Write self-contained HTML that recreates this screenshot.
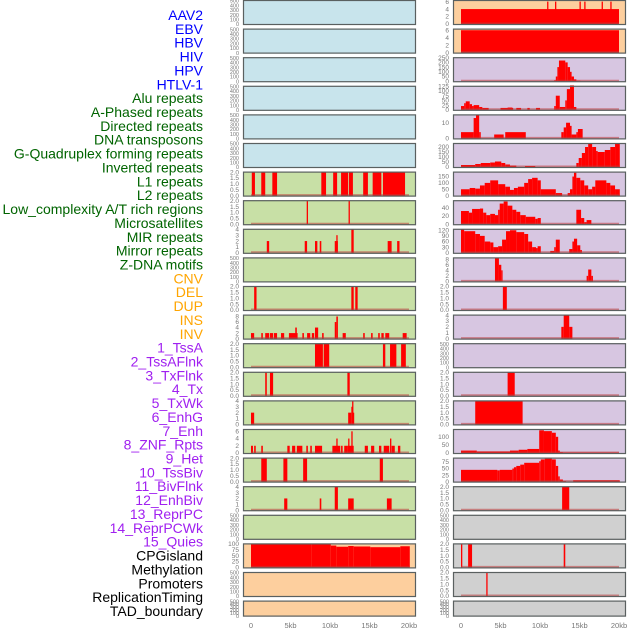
<!DOCTYPE html>
<html><head><meta charset="utf-8"><style>
body{margin:0;background:#fff;}
svg{display:block;font-family:"Liberation Sans",sans-serif;}
</style></head><body>
<svg id="chart" width="630" height="630" viewBox="0 0 630 630"></svg>
<script>
const labels=["AAV2","EBV","HBV","HIV","HPV","HTLV-1","Alu repeats","A-Phased repeats","Directed repeats","DNA transposons","G-Quadruplex forming repeats","Inverted repeats","L1 repeats","L2 repeats","Low_complexity A/T rich regions","Microsatellites","MIR repeats","Mirror repeats","Z-DNA motifs","CNV","DEL","DUP","INS","INV","1_TssA","2_TssAFlnk","3_TxFlnk","4_Tx","5_TxWk","6_EnhG","7_Enh","8_ZNF_Rpts","9_Het","10_TssBiv","11_BivFlnk","12_EnhBiv","13_ReprPC","14_ReprPCWk","15_Quies","CPGisland","Methylation","Promoters","ReplicationTiming","TAD_boundary"];
const labelColors=["#0000ff","#0000ff","#0000ff","#0000ff","#0000ff","#0000ff","#006400","#006400","#006400","#006400","#006400","#006400","#006400","#006400","#006400","#006400","#006400","#006400","#006400","#ffa500","#ffa500","#ffa500","#ffa500","#ffa500","#a020f0","#a020f0","#a020f0","#a020f0","#a020f0","#a020f0","#a020f0","#a020f0","#a020f0","#a020f0","#a020f0","#a020f0","#a020f0","#a020f0","#a020f0","#000","#000","#000","#000","#000"];
const xTickValues=[0,5,10,15,20];
const xTickLabels=["0","5kb","10kb","15kb","20kb"];
const E=[0,100,200,300,400,500];
const T2=[0,0.5,1,1.5,2];
const leftBg=["b","b","b","b","b","b","g","g","g","g","g","g","g","g","g","g","g","g","g","o","o","o"];
const leftYmax=[500,500,500,500,500,500,2,2,4,500,2,8.5,2,2,4,6.5,2,4,500,100,500,500];
const leftTicks=[E,E,E,E,E,E,T2,T2,[0,1,2,3,4],E,T2,[0,2,4,6,8],T2,T2,[0,1,2,3,4],[0,2,4,6],T2,[0,1,2,3,4],E,[0,25,50,75,100],E,E];
const leftBars=[[],[],[],[],[],[],
[[0.1,0.5,2],[1.3,1.8,2],[2.7,3.3,2],[8.9,9.5,2],[10.4,10.9,2],[11.4,12.3,2],[12.4,12.9,2],[14.2,14.8,2],[15.4,16.5,2],[16.7,19.5,2]],
[[7.05,7.2,2],[12.35,12.5,2]],
[[2.0,2.3,2],[6.8,7.1,2],[8.1,8.4,2],[8.7,8.9,2],[10.6,11.0,2],[10.8,10.9,3],[12.7,13.0,4],[17.3,17.8,2],[18.5,18.8,2]],
[],
[[0.4,0.7,2],[12.7,13.0,2],[13.2,13.5,2]],
[[0,0.4,2],[1.3,1.5,2],[1.8,2.3,2],[2.4,2.8,2],[2.9,3.3,2],[3.8,4.2,2],[4.8,5.9,2],[5.6,5.8,4],[6.5,6.7,2],[7.1,7.5,2],[7.7,8.0,2],[8.1,8.5,4],[9.0,9.2,2],[10.6,10.8,6],[10.8,11.0,8],[11.6,12.0,2],[14.2,14.4,2],[15.2,15.4,2],[16.1,16.3,2],[16.5,16.8,2],[17.0,17.5,2],[19.2,19.7,2]],
[[8.1,9.1,2],[9.2,9.9,2],[16.7,17.0,2],[17.6,18.4,2],[19.0,19.6,2]],
[[1.8,2.0,2],[2.4,2.8,2],[12.2,12.5,2]],
[[0,0.4,2],[12.3,12.7,2],[12.7,12.8,3],[12.8,12.9,4],[12.9,13.0,2]],
[[0,0.25,2],[0.4,0.6,2],[1.3,1.5,2],[4.6,4.9,2],[5.2,5.6,2],[5.8,6.5,2],[7.0,7.2,2],[7.5,7.7,2],[8.1,9.0,2],[10.3,11.3,2],[10.8,10.9,4],[11.4,11.6,2],[11.8,12.2,2],[12.2,13.0,2],[12.3,12.4,4],[12.7,12.8,6],[14.4,14.8,2],[15.2,15.6,2],[16.2,16.5,2],[16.8,17.5,2],[17.6,17.7,4],[17.8,18.2,2],[18.6,18.9,2]],
[[1.3,2.0,2],[4.1,4.6,2],[6.6,7.1,2],[16.3,16.7,2]],
[[4.2,4.6,2],[8.7,8.9,2],[10.6,11.0,4],[12.3,13.0,2],[17.2,17.8,2]],
[],
[[0,7.7,100],[7.7,10.1,98],[10.1,10.8,93],[10.8,12.3,88],[12.3,13.0,91],[13.0,15.1,89],[15.1,18.9,86],[18.9,20.1,90]],
[],[]];
const rightBg=["o","o","p","p","p","p","p","p","p","p","p","p","p","p","p","p","p","y","y","y","y","y"];
const rightYmax=[6.3,6.3,250,125,15,235,185,57,125,8.5,2,4,500,2,2,145,90,2,500,2,2,500];
const rightTicks=[[0,2,4,6],[0,2,4,6],[0,50,100,150,200,250],[0,25,50,75,100,125],[0,10],[0,50,100,150,200],[0,50,100,150],[0,20,40],[0,30,60,90,120],[0,2,4,6,8],T2,[0,1,2,3,4],E,T2,T2,[0,50,100],[0,25,50,75],T2,E,T2,T2,E];
const rightBars=[
[[0,20,4],[10.9,11.0,6],[11.9,12.0,6],[15.0,15.1,6],[15.6,15.7,6],[17.8,17.9,6],[18.9,19.0,6]],
[[0,20,6]],
[[11.8,12.0,10],[12.0,12.2,50],[12.2,12.4,150],[12.4,13.2,220],[13.2,13.5,200],[13.5,13.8,150],[13.8,14.0,100],[14.0,14.3,50],[14.3,14.6,20],[14.6,15.1,5]],
[[0,0.4,20],[0.4,0.6,35],[0.6,1.1,45],[1.1,1.4,30],[1.4,1.6,20],[1.6,2.3,25],[2.3,2.7,15],[2.7,3.5,10],[5.0,6.6,10],[5.9,6.5,12],[7.0,7.6,10],[8.4,8.7,10],[9.5,10.0,10],[11.8,12.0,20],[12.0,12.5,75],[12.5,13.2,15],[13.2,13.4,50],[13.4,13.8,110],[13.8,14.3,130],[14.3,14.6,15]],
[[0,1.6,4],[1.6,1.9,13],[1.9,2.3,15],[2.3,2.5,4],[4.2,5.4,2.5],[5.6,8.2,4],[12.7,13.0,4],[13.0,13.3,7],[13.3,13.8,10],[13.8,14.0,8],[14.0,14.6,2.5],[14.6,14.8,4],[14.8,15.4,6]],
[[0,1.8,20],[1.8,2.5,30],[2.5,3.7,40],[3.7,4.3,45],[4.3,5.1,55],[5.1,5.6,40],[5.6,6.2,25],[6.2,7.0,15],[8.1,9.4,10],[14.6,14.9,40],[14.9,15.3,90],[15.3,15.7,140],[15.7,16.1,200],[16.1,16.6,230],[16.6,17.1,200],[17.1,17.3,160],[17.3,18.2,150],[18.2,18.9,170],[18.9,19.5,200],[19.5,20.1,230]],
[[0,1.1,50],[1.1,1.8,60],[1.8,2.4,55],[2.4,3.0,80],[3.0,3.7,100],[3.7,4.7,120],[4.7,5.6,90],[5.6,6.2,70],[6.2,6.7,45],[6.7,7.2,60],[7.2,8.0,70],[8.0,8.5,100],[8.5,9.0,130],[9.0,9.7,140],[9.7,10.1,120],[10.1,12.0,50],[12.0,12.8,20],[13.5,13.8,20],[13.8,14.1,50],[14.1,14.3,150],[14.3,14.6,180],[14.6,15.1,140],[15.1,15.6,120],[15.6,16.1,80],[16.1,16.6,50],[16.6,17.0,70],[17.0,18.4,120],[18.4,18.9,100],[18.9,19.5,80],[19.5,20.1,50]],
[[0,1.0,32],[1.0,1.4,28],[1.4,2.4,37],[2.4,2.8,38],[2.8,3.2,28],[3.2,3.7,22],[3.7,4.3,25],[4.3,4.7,22],[4.7,4.9,35],[4.9,5.4,50],[5.4,5.9,55],[5.9,6.5,45],[6.5,7.0,35],[7.0,7.5,30],[7.5,8.2,22],[8.2,9.4,18],[9.4,9.7,13],[9.7,10.1,15],[14.6,15.2,35],[15.2,15.6,15],[15.6,15.9,5],[15.9,16.5,10]],
[[0,0.4,125],[0.4,1.8,115],[1.8,2.4,100],[2.4,3.0,90],[3.0,3.7,60],[3.7,4.1,55],[4.1,4.7,30],[4.7,5.2,35],[5.2,5.7,70],[5.7,6.2,115],[6.2,7.0,120],[7.0,8.0,110],[8.0,8.5,100],[8.5,9.0,60],[9.0,9.5,30],[9.5,9.7,25],[9.7,10.1,35],[11.3,11.8,10],[11.8,12.0,30],[12.0,12.5,70],[13.7,14.1,20],[14.1,14.3,60],[14.3,14.7,75],[14.7,15.1,40],[15.1,15.3,15]],
[[4.3,4.8,8.5],[4.8,5.1,6],[5.1,5.2,4],[15.9,16.1,2],[16.1,16.5,4.3],[16.5,16.7,2]],
[[5.3,5.8,2]],
[[12.7,13.0,2],[13.0,13.7,4],[13.7,14.1,2]],
[],
[[5.9,6.8,2]],
[[1.8,7.8,2]],
[[0,2.0,15],[2.0,6.2,10],[6.2,7.3,15],[7.3,8.4,20],[8.4,9.9,25],[9.9,10.5,140],[10.5,11.5,135],[11.5,12.0,125],[12.0,12.3,100],[12.3,12.5,15],[12.5,12.9,5],[12.9,20,3]],
[[0,4.6,45],[4.6,4.9,43],[4.9,6.5,45],[6.5,6.7,50],[6.7,7.0,55],[7.0,7.5,60],[7.5,8.0,65],[8.0,9.9,72],[9.9,10.1,78],[10.1,10.6,85],[10.6,11.5,88],[11.5,12.0,85],[12.0,12.3,60],[12.3,12.5,20],[12.5,12.9,8],[12.9,13.3,2],[14.2,20.1,5]],
[[12.8,13.7,2]],
[],
[[0,0.15,2],[0.9,1.4,2],[13.0,13.2,2]],
[[3.2,3.35,2]],
[]];

const NS="http://www.w3.org/2000/svg";
const svg=document.getElementById('chart');
const bgColors={b:"#c8e4ec",g:"#c8e0a6",o:"#fdcf9e",p:"#d7c6e1",y:"#d0d0d0"};
function mk(tag,attrs,parent){const e=document.createElementNS(NS,tag);for(const k in attrs)e.setAttribute(k,attrs[k]);(parent||svg).appendChild(e);return e;}
function fmt(v,ticks){return ticks===T2?v.toFixed(1):String(v);}

// labels
labels.forEach((t,i)=>{
  const el=mk('text',{x:203,y:15+i*13.86+5,'text-anchor':'end','font-size':'14',fill:labelColors[i]});
  el.textContent=t;
  
  
});

function drawPanel(col,r,bg,ymax,ticks,bars){
  const px0=col===0?243:453, pw=173;
  const x0=col===0?251:461, kbScale=7.9;
  const xs=kb=>x0+kb*kbScale;
  const top=r*28.6, h=(r===21?16:25);
  const bottom=top+h;
  const ys=v=>(bottom-1)-(v/ymax)*(h-1.5);
  const g=mk('g',{});
  
  
  mk('rect',{x:px0,y:top,width:pw,height:h,fill:bgColors[bg]},g);
  bars.forEach(b=>{
    const xa=xs(b[0]), xb=Math.max(xs(b[1]),xa+1.3);
    const rc=mk('rect',{x:xa,y:ys(b[2]),width:xb-xa,height:(bottom-1)-ys(b[2]),fill:'#ff0000'},g);
    
    
  });
  if(ticks!==E){
    mk('line',{x1:xs(0),x2:xs(20),y1:bottom-1.5,y2:bottom-1.5,stroke:'rgba(190,60,60,0.55)','stroke-width':2},g);
  }
  mk('rect',{x:px0+0.5,y:top+0.5,width:pw-1,height:h-1,fill:'none',stroke:'#5a6060','stroke-width':1.2},g);
  const fs=ticks===E?5.5:6.5;
  ticks.forEach(v=>{
    const t=mk('text',{x:px0-4,y:ys(v)+2.2,'text-anchor':'end','font-size':fs,fill:'#777'},g);
    t.textContent=fmt(v,ticks);
    
    
  });
  if(r===21){
    xTickValues.forEach((v,i)=>{
      const t=mk('text',{x:xs(v),y:628,'text-anchor':'middle','font-size':7.5,fill:'#777'},g);
      t.textContent=xTickLabels[i];
      
      
    });
  }
}
for(let r=0;r<22;r++){
  drawPanel(0,r,leftBg[r],leftYmax[r],leftTicks[r],leftBars[r]);
  drawPanel(1,r,rightBg[r],rightYmax[r],rightTicks[r],rightBars[r]);
}
</script>
</body></html>
